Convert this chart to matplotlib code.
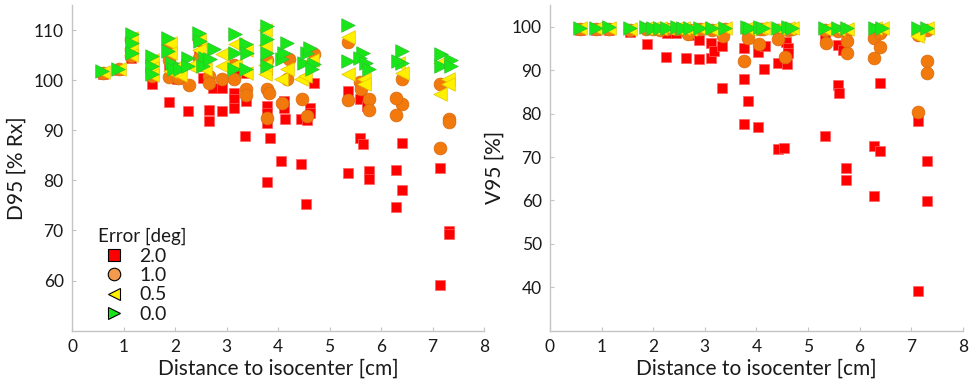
import matplotlib
matplotlib.use("Agg")
import matplotlib.pyplot as plt
from matplotlib.lines import Line2D

plt.rcParams['font.family'] = ['Lato', 'DejaVu Sans']

# ---------------- Left panel: D95 [% Rx] ----------------
d95_e20_x = [0.60, 0.92, 1.15, 1.15, 1.15, 1.55, 1.55, 1.55, 1.89, 1.89, 1.89, 2.04, 2.04, 2.26,
             2.46, 2.44, 2.55, 2.65, 2.65, 2.74, 2.91, 2.91, 3.14, 3.14, 3.14, 3.17, 3.35, 3.37, 3.37,
             3.79, 3.79, 3.79, 3.79, 3.79, 3.85, 4.05, 4.11, 4.11, 4.14, 4.44, 4.44, 4.55, 4.57,
             4.63, 4.63, 4.69, 5.36, 5.36, 5.59, 5.64, 5.60, 5.73, 5.77, 5.77, 6.30, 6.30, 6.40,
             6.40, 7.15, 7.15, 7.31, 7.31]
d95_e20_y = [101.2, 102.0, 107.5, 105.5, 104.5, 103.0, 101.0, 99.2, 106.0, 103.0, 95.7, 101.5, 100.2, 93.9,
             105.2, 102.9, 100.5, 94.1, 91.9, 98.5, 98.5, 93.9, 97.5, 96.2, 94.5, 101.5, 88.9, 95.9, 101.5,
             102.0, 94.9, 93.5, 91.5, 79.7, 88.5, 83.9, 94.5, 95.9, 92.2, 83.2, 92.2, 75.2, 92.0,
             94.5, 93.5, 99.5, 97.9, 81.5, 88.5, 87.2, 96.2, 94.9, 81.9, 80.3, 82.1, 74.7, 87.4,
             78.1, 82.4, 59.1, 69.9, 69.3]

d95_e10_x = [0.60, 0.92, 1.15, 1.15, 1.15, 1.55, 1.55, 1.55, 1.89, 1.89, 1.89, 2.05, 2.05, 2.27,
             2.46, 2.46, 2.65, 2.65, 2.91, 3.14, 3.14, 3.37, 3.37, 3.79, 3.79, 3.79, 3.82, 4.08,
             4.18, 4.21, 4.47, 4.57, 4.69, 5.36, 5.36, 5.59, 5.62, 5.77, 5.77, 6.41, 6.41, 6.30,
             6.30, 7.15, 7.15, 7.32, 7.32]
d95_e10_y = [101.5, 102.2, 108.0, 106.0, 104.8, 103.5, 102.0, 100.8, 107.0, 104.0, 100.7, 102.0, 100.5, 99.1,
             108.0, 104.5, 100.9, 99.5, 100.2, 103.0, 100.3, 98.2, 97.0, 104.0, 98.2, 92.5, 97.5, 95.5,
             100.2, 104.2, 96.2, 92.9, 105.2, 107.7, 96.0, 99.7, 98.2, 96.3, 94.1, 100.3, 95.2, 96.5,
             93.0, 99.3, 86.5, 92.3, 91.7]

d95_e05_x = [0.60, 0.92, 1.15, 1.15, 1.15, 1.55, 1.55, 1.55, 1.91, 1.91, 1.91, 2.10, 2.10, 2.30,
             2.46, 2.46, 2.59, 2.91, 2.91, 3.17, 3.17, 3.37, 3.37, 3.75, 3.75, 3.75, 3.75, 4.05,
             4.18, 4.44, 4.53, 4.66, 5.36, 5.36, 5.66, 5.66, 6.32, 6.41, 7.30, 7.30, 7.15, 7.15]
d95_e05_y = [101.6, 102.3, 108.5, 106.5, 105.0, 104.0, 102.5, 101.0, 107.5, 105.5, 101.9, 103.0, 101.0, 102.9,
             108.0, 106.0, 102.2, 105.2, 102.9, 107.2, 103.0, 101.5, 106.0, 101.2, 110.0, 107.0, 103.0, 100.2,
             102.2, 100.2, 100.9, 104.0, 108.6, 101.2, 100.2, 99.2, 103.5, 101.5, 100.2, 99.2, 97.2, 103.5]

d95_e00_x = [0.58, 0.90, 1.16, 1.16, 1.16, 1.55, 1.55, 1.55, 1.87, 1.87, 1.94, 1.97, 2.10, 2.26,
             2.26, 2.46, 2.49, 2.59, 2.55, 2.75, 2.68, 3.17, 3.17, 3.14, 3.37, 3.37, 3.40, 3.79,
             3.79, 3.79, 3.79, 4.08, 4.11, 4.18, 4.50, 4.57, 4.63, 4.69, 4.66, 5.36, 5.36, 5.64,
             5.60, 5.70, 5.76, 6.41, 6.41, 6.32, 7.16, 7.16, 7.35, 7.35]
d95_e00_y = [101.9, 102.3, 109.2, 107.5, 105.5, 104.9, 102.9, 101.2, 108.5, 105.9, 103.5, 102.2, 102.2, 104.5,
             102.9, 109.5, 107.9, 104.5, 102.9, 106.2, 104.2, 109.2, 105.5, 102.2, 107.2, 102.2, 105.5, 110.9,
             108.2, 105.5, 102.9, 104.2, 105.5, 107.5, 103.5, 105.5, 106.5, 103.2, 102.2, 111.0, 103.9, 105.5,
             104.5, 103.5, 102.2, 105.9, 103.5, 103.9, 105.2, 102.9, 104.1, 102.9]

# ---------------- Right panel: V95 [%] ----------------
v95_top_x = [0.58, 0.90, 1.14, 1.55, 1.86, 2.00, 2.13, 2.27, 2.46, 2.58, 2.71, 2.91, 3.14, 3.39,
             3.82, 3.88, 4.07, 4.13, 4.42, 4.61, 4.69, 5.33, 5.58, 5.76, 6.30, 6.43, 7.13, 7.31]

v95_e00_x = v95_top_x
v95_e00_y = [99.8, 99.8, 99.9, 99.7, 99.9, 99.8, 99.8, 99.8, 99.9, 99.8, 99.8, 99.8, 99.8, 99.8,
             99.9, 99.8, 99.9, 99.8, 99.8, 99.9, 99.8, 99.8, 99.8, 99.7, 99.8, 99.8, 99.7, 99.8]

v95_e05_x = v95_top_x + [7.11]
v95_e05_y = [99.6, 99.6, 99.7, 99.5, 99.6, 99.6, 99.6, 99.6, 99.7, 99.6, 99.5, 99.6, 99.5, 99.6,
             99.6, 99.5, 99.6, 99.6, 99.6, 99.6, 99.6, 99.5, 99.5, 99.5, 99.6, 99.6, 98.6, 99.6, 97.8]

v95_e10_x = v95_top_x + [2.68, 3.35, 3.77, 3.84, 4.06, 4.42, 4.55, 5.35, 5.75, 5.75, 6.28, 6.28,
                         6.40, 6.40, 7.30, 7.30, 7.14]
v95_e10_y = [99.4, 99.4, 99.5, 99.3, 99.4, 99.4, 99.3, 99.4, 99.4, 99.4, 99.3, 99.4, 99.3, 99.4,
             99.3, 99.3, 99.4, 99.4, 99.3, 99.3, 99.4, 99.2, 99.0, 99.1, 99.3, 99.2, 98.2, 99.3,
             98.3, 97.8, 92.2, 97.5, 96.0, 97.2, 93.1, 96.2, 96.8, 93.9, 97.4, 92.8,
             98.5, 95.3, 92.0, 89.4, 80.4]

v95_e20_x = [0.58, 0.90, 1.14, 1.55, 1.89, 2.25, 2.26, 2.44, 2.64, 2.75, 2.89, 2.89, 3.13, 3.13,
             3.17, 3.34, 3.34, 3.77, 3.77, 3.77, 3.84, 4.04, 4.04, 4.17, 4.15, 4.57, 4.62, 4.62,
             4.42, 4.42, 4.60, 4.54, 5.33, 5.34, 5.59, 5.59, 5.61, 5.68, 5.74, 5.74, 6.28, 6.28,
             6.40, 6.40, 7.13, 7.13, 7.30, 7.30]
v95_e20_y = [99.2, 99.2, 99.3, 98.9, 96.1, 93.0, 98.5, 98.5, 92.9, 98.0, 92.5, 97.0, 96.2, 92.9,
             94.5, 95.5, 86.0, 95.1, 87.9, 77.6, 82.9, 94.3, 77.0, 95.5, 90.3, 96.6, 95.1, 93.9,
             91.6, 71.8, 91.4, 72.0, 97.5, 74.8, 95.8, 86.6, 84.7, 94.7, 67.5, 64.7, 72.6, 61.1,
             87.1, 71.4, 78.3, 39.1, 69.1, 59.8]

legend_labels = ['2.0', '1.0', '0.5', '0.0']

# ---------------- styling ----------------
RED = '#ff0000'
ORANGE = '#f27a0c'
YELLOW = '#fff000'
GREEN = '#19e619'
SPINE = '#c4c4c4'
TXT = '#1a1a1a'

styles = [
    dict(marker='s', s=50, c=RED, edgecolors='#ff6060', linewidths=0.5),
    dict(marker='o', s=85, c=ORANGE, edgecolors='#d86a10', linewidths=0.5),
    dict(marker='<', s=95, c=YELLOW, edgecolors='#e0c800', linewidths=0.5),
    dict(marker='>', s=95, c=GREEN, edgecolors='#30c030', linewidths=0.5),
]

fig = plt.figure(figsize=(9.71, 3.89), dpi=100)
axL = fig.add_axes([0.0742, 0.150, 0.4243, 0.837])
axR = fig.add_axes([0.5664, 0.150, 0.4251, 0.837])

left_data = [(d95_e20_x, d95_e20_y), (d95_e10_x, d95_e10_y), (d95_e05_x, d95_e05_y), (d95_e00_x, d95_e00_y)]
right_data = [(v95_e20_x, v95_e20_y), (v95_e10_x, v95_e10_y), (v95_e05_x, v95_e05_y), (v95_e00_x, v95_e00_y)]

for (x, y), st in zip(left_data, styles):
    axL.scatter(x, y, zorder=3, **st)
for (x, y), st in zip(right_data, styles):
    axR.scatter(x, y, zorder=3, **st)

axL.set_xlim(0, 8)
axL.set_ylim(50, 115)
axL.set_yticks([60, 70, 80, 90, 100, 110])
axR.set_xlim(0, 8)
axR.set_ylim(30, 105)
axR.set_yticks([40, 50, 60, 70, 80, 90, 100])

for ax in (axL, axR):
    ax.set_xticks(range(0, 9))
    for side in ('top', 'right'):
        ax.spines[side].set_visible(False)
    for side in ('left', 'bottom'):
        ax.spines[side].set_color(SPINE)
        ax.spines[side].set_linewidth(1.0)
    ax.tick_params(direction='in', length=3, color=SPINE, labelsize=12.5, labelcolor=TXT, pad=6)
    ax.set_xlabel('Distance to isocenter [cm]', fontsize=15, color=TXT, labelpad=3)

axL.set_ylabel('D95 [% Rx]', fontsize=15, color=TXT, labelpad=5)
axR.set_ylabel('V95 [%]', fontsize=15, color=TXT, labelpad=5)

handles = [
    Line2D([], [], linestyle='none', marker='s', markersize=8, markerfacecolor=RED, markeredgecolor='black', markeredgewidth=0.8),
    Line2D([], [], linestyle='none', marker='o', markersize=9, markerfacecolor='#f39a4c', markeredgecolor='black', markeredgewidth=0.8),
    Line2D([], [], linestyle='none', marker='<', markersize=9, markerfacecolor=YELLOW, markeredgecolor='black', markeredgewidth=0.8),
    Line2D([], [], linestyle='none', marker='>', markersize=9, markerfacecolor=GREEN, markeredgecolor='black', markeredgewidth=0.8),
]
leg = axL.legend(handles, legend_labels, title='Error [deg]', loc='upper left',
                 bbox_to_anchor=(0.04, 0.345), frameon=False, fontsize=14,
                 title_fontsize=13.5, handletextpad=0.5, labelspacing=0.12,
                 borderpad=0.0, handlelength=1.6, alignment='left')
for t in leg.get_texts():
    t.set_color(TXT)
leg.get_title().set_color(TXT)

fig.savefig('out.png', dpi=100)
